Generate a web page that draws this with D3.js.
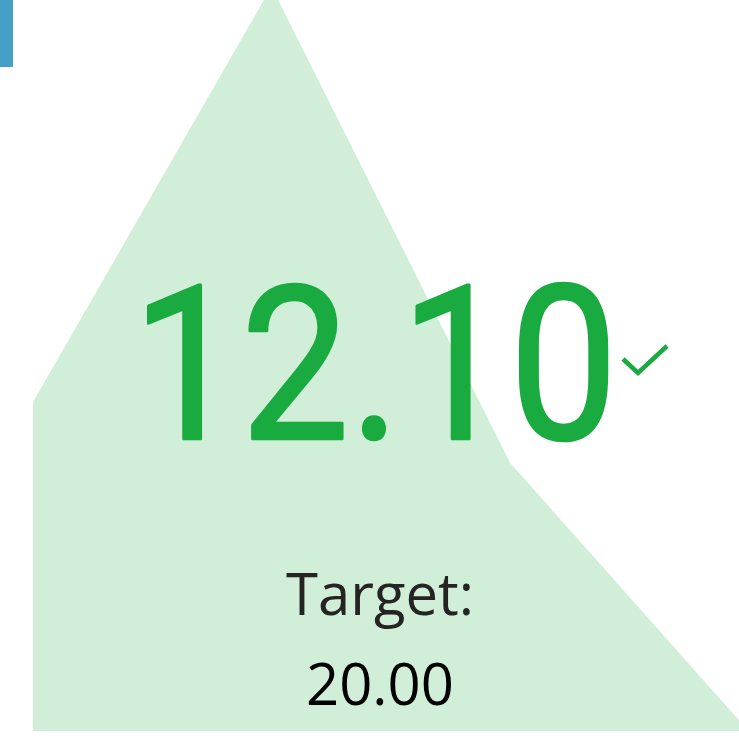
<!DOCTYPE html>
<html><head><meta charset="utf-8">
<script src="https://cdn.jsdelivr.net/npm/d3@7"></script>
<style>html,body{margin:0;padding:0;background:#fff;overflow:hidden}</style>
</head><body>
<svg id="c" width="739" height="741"></svg>
<script>
// trend data (index, value)
const periods = [0, 1, 2, 3];
const trendValues = [45.0, 101.8, 36.7, 0];
const kpiValue = "12.10";
const targetLabel = "Target:";
const targetValue = "20.00";

const svg = d3.select("#c");

const x = d3.scaleLinear().domain([0, 3]).range([33, 748.5]);
const y = d3.scaleLinear().domain([0, 100]).range([731, 0]);

const area = d3.area()
  .x((d, i) => x(periods[i]))
  .y0(y(0))
  .y1(d => y(d));

svg.append("path")
  .datum(trendValues)
  .attr("d", area)
  .attr("fill", "#1AAB40")
  .attr("fill-opacity", 0.2);

// blue marker in top-left
svg.append("rect").attr("x", 0).attr("y", 0).attr("width", 13).attr("height", 67).attr("fill", "#45A0C8");

// KPI value
svg.append("text")
  .attr("transform", "translate(375,439) scale(0.9,1)")
  .attr("text-anchor", "middle")
  .attr("font-family", "Roboto")
  .attr("font-size", 215)
  .attr("letter-spacing", 0)
  .attr("fill", "#1AAB40")
  .attr("stroke", "#1AAB40")
  .attr("stroke-width", 2.6)
  .attr("stroke-linejoin", "round")
  .text(kpiValue);

// check mark
svg.append("path")
  .attr("d", "M623,359 L638,373 L667,346")
  .attr("fill", "none")
  .attr("stroke", "#1AAB40")
  .attr("stroke-width", 4.5);

svg.append("text")
  .attr("x", 380).attr("y", 615)
  .attr("text-anchor", "middle")
  .attr("font-family", "Open Sans")
  .attr("font-size", 58)
  .attr("fill", "#252423")
  .text(targetLabel);

svg.append("text")
  .attr("x", 380).attr("y", 705)
  .attr("text-anchor", "middle")
  .attr("font-family", "Open Sans")
  .attr("font-size", 58)
  .attr("fill", "#000000")
  .text(targetValue);
</script>
</body></html>
